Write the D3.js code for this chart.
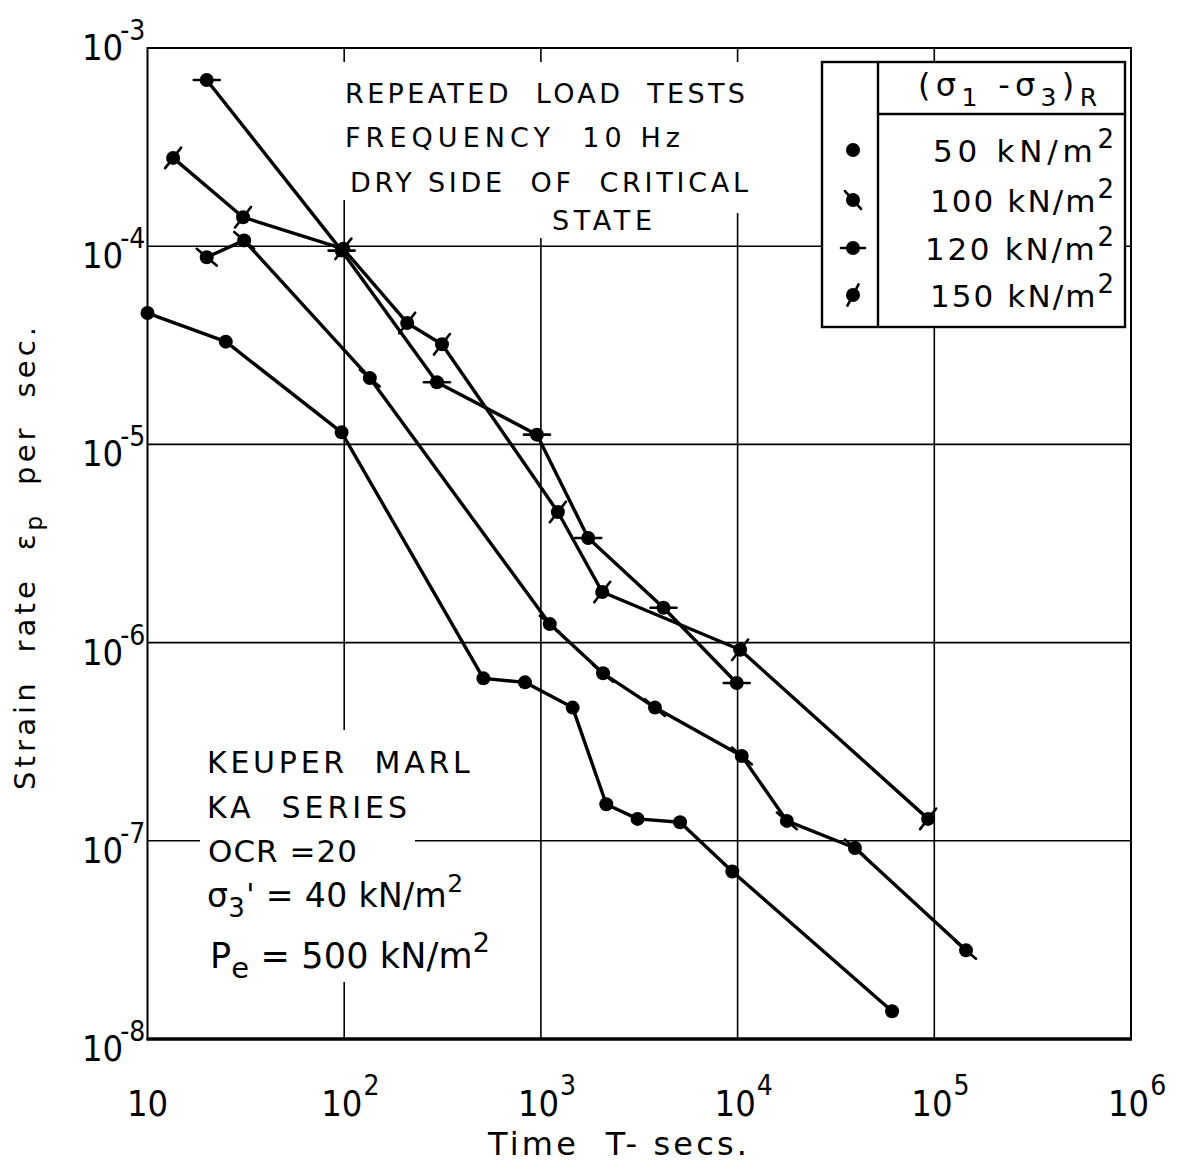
<!DOCTYPE html>
<html>
<head>
<meta charset="utf-8">
<script src="https://cdn.jsdelivr.net/npm/d3@7"></script>
<style>
  html, body { margin: 0; padding: 0; background: #fff; }
  svg text { white-space: pre; fill: #000; }
</style>
</head>
<body>
<svg id="chart" width="1181" height="1165"></svg>
<script>
// Repeated load tests on Keuper Marl: strain rate against time (log-log)

// ---- data ----
const seriesNames = ["50", "100", "120", "150"];

const time50  = [10, 25, 97, 510, 830, 1450, 2150, 3100, 5100, 9400, 61000];
const rate50  = [4.6e-5, 3.3e-5, 1.15e-5, 6.6e-7, 6.3e-7, 4.7e-7, 1.53e-7, 1.29e-7, 1.24e-7, 7.0e-8, 1.38e-8];

const time100 = [20, 31, 135, 1110, 2070, 3800, 10500, 17800, 39500, 145000];
const rate100 = [8.8e-5, 1.07e-4, 2.16e-5, 1.24e-6, 7.0e-7, 4.7e-7, 2.68e-7, 1.26e-7, 9.2e-8, 2.8e-8];

const time120 = [20, 97, 296, 955, 1740, 4200, 9900];
const rate120 = [6.9e-4, 9.5e-5, 2.06e-5, 1.12e-5, 3.37e-6, 1.5e-6, 6.25e-7];

const time150 = [13.5, 30.6, 99, 209, 314, 1220, 2050, 10300, 93000];
const rate150 = [2.79e-4, 1.40e-4, 9.7e-5, 4.1e-5, 3.2e-5, 4.56e-6, 1.8e-6, 9.2e-7, 1.29e-7];

const xTicks = [10, 1e2, 1e3, 1e4, 1e5, 1e6];
const xTickExp = ["", "2", "3", "4", "5", "6"];
const yTicks = [1e-3, 1e-4, 1e-5, 1e-6, 1e-7, 1e-8];
const yTickExp = ["-3", "-4", "-5", "-6", "-7", "-8"];

const titleLines = ["REPEATED  LOAD  TESTS", "FREQUENCY  10 Hz", "DRY SIDE  OF  CRITICAL", "STATE"];
const notesLines = ["KEUPER  MARL", "KA  SERIES", "OCR =20"];

// ---- setup ----
const TICK_FONT = '"DejaVu Sans Condensed", "Liberation Sans Narrow", "DejaVu Sans", sans-serif';
const TEXT_FONT = '"DejaVu Sans", "Liberation Sans", sans-serif';
const svg = d3.select("#chart").style("font-family", TEXT_FONT);
svg.append("rect").attr("width", 1181).attr("height", 1165).attr("fill", "#fff");

const plot = { left: 147.5, right: 1131, top: 48, bottom: 1039 };
const x = d3.scaleLog().domain([10, 1e6]).range([plot.left, plot.right]);
const y = d3.scaleLog().domain([1e-8, 1e-3]).range([plot.bottom, plot.top]);

// spread a text's letters so that it spans the given width
function fit(sel, width) {
  const node = sel.node();
  const w = node.getBBox().width;
  const n = node.getNumberOfChars();
  if (n > 1) sel.style("letter-spacing", ((width - w) / (n - 1)) + "px");
  return sel;
}

// ---- grid ----
const grid = svg.append("g").attr("stroke", "#000").attr("stroke-width", 1.6);
grid.selectAll("line.v").data(xTicks.slice(1, -1)).join("line")
  .attr("x1", d => x(d)).attr("x2", d => x(d))
  .attr("y1", plot.top).attr("y2", plot.bottom);
grid.selectAll("line.h").data(yTicks.slice(1, -1)).join("line")
  .attr("y1", d => y(d)).attr("y2", d => y(d))
  .attr("x1", plot.left).attr("x2", plot.right);

// white panels behind the annotation text
const knockouts = [
  [338, 62, 755, 200], [540, 200, 755, 213], [535, 200, 665, 238],
  [200, 730, 415, 982]
];
svg.append("g").selectAll("rect").data(knockouts).join("rect")
  .attr("x", d => d[0]).attr("y", d => d[1])
  .attr("width", d => d[2] - d[0]).attr("height", d => d[3] - d[1])
  .attr("fill", "#fff");

// frame
svg.append("rect")
  .attr("x", plot.left).attr("y", plot.top)
  .attr("width", plot.right - plot.left).attr("height", plot.bottom - plot.top)
  .attr("fill", "none").attr("stroke", "#000").attr("stroke-width", 2);
svg.append("line")
  .attr("x1", plot.left - 1).attr("x2", plot.right + 1)
  .attr("y1", plot.bottom).attr("y2", plot.bottom)
  .attr("stroke", "#000").attr("stroke-width", 3.5);

// ---- axis labels ----
const ticksG = svg.append("g").style("font-family", TICK_FONT);
xTicks.forEach((v, i) => {
  const t = ticksG.append("text").attr("y", 1116).attr("font-size", 36);
  if (xTickExp[i] === "") {
    t.attr("x", x(v)).attr("text-anchor", "middle").text("10");
  } else {
    t.attr("x", x(v) - 23).text("10");
    t.append("tspan").attr("dx", 1).attr("dy", -21).attr("font-size", 28).text(xTickExp[i]);
  }
});

yTicks.forEach((v, i) => {
  const t = ticksG.append("text").attr("x", 82)
    .attr("y", y(v) + (i === 0 ? 12 : 22)).attr("font-size", 36).text("10");
  t.append("tspan").attr("dx", -3).attr("dy", -20).attr("font-size", 28).text(yTickExp[i]);
});

fit(svg.append("text").attr("x", 488).attr("y", 1155).attr("font-size", 32)
  .text("Time  T- secs."), 260);

const yTitle = svg.append("text").attr("font-size", 29)
  .attr("transform", "translate(35,790) rotate(-90)");
yTitle.append("tspan").text("Strain  rate  ε");
yTitle.append("tspan").attr("dy", 7).attr("font-size", 23).text("p");
yTitle.append("tspan").attr("dy", -7).text("  per  sec.");
fit(yTitle, 463);

// ---- title block ----
const titlePos = [[345, 103, 400], [345, 147, 335], [350, 192, 398], [552, 230, 100]];
titleLines.forEach((s, i) => {
  const [tx, ty, tw] = titlePos[i];
  fit(svg.append("text").attr("x", tx).attr("y", ty).attr("font-size", 27).text(s), tw);
});

// ---- notes block ----
const notesPos = [[207, 773, 263, 30], [207, 818, 200, 30], [208, 862, 149, 31]];
notesLines.forEach((s, i) => {
  const [tx, ty, tw, fs] = notesPos[i];
  fit(svg.append("text").attr("x", tx).attr("y", ty).attr("font-size", fs).text(s), tw);
});
const sig = svg.append("text").attr("x", 207).attr("y", 907).attr("font-size", 33);
sig.append("tspan").text("σ");
sig.append("tspan").attr("dy", 10).attr("font-size", 26).text("3");
sig.append("tspan").attr("dx", 1).attr("dy", -12).attr("font-size", 30).text("'");
sig.append("tspan").attr("dy", 2).text(" = 40 kN/m");
sig.append("tspan").attr("dy", -15).attr("font-size", 25).text("2");
fit(sig, 256);

const pe = svg.append("text").attr("x", 210).attr("y", 968).attr("font-size", 35);
pe.append("tspan").text("P");
pe.append("tspan").attr("dy", 10).attr("font-size", 29).text("e");
pe.append("tspan").attr("dy", -10).text(" = 500 kN/m");
pe.append("tspan").attr("dy", -16).attr("font-size", 27).text("2");
fit(pe, 280);

// ---- data marks ----
const series = [
  { name: seriesNames[0], t: time50,  r: rate50,  tick: null },
  { name: seriesNames[1], t: time100, r: rate100, tick: 40 },
  { name: seriesNames[2], t: time120, r: rate120, tick: 0 },
  { name: seriesNames[3], t: time150, r: rate150, tick: -52 }
];

const line = d3.line().x(d => x(d[0])).y(d => y(d[1]));

function marker(g, cx, cy, tick, r, half) {
  if (tick !== null) {
    const a = tick * Math.PI / 180;
    g.append("line")
      .attr("x1", cx - half * Math.cos(a)).attr("y1", cy - half * Math.sin(a))
      .attr("x2", cx + half * Math.cos(a)).attr("y2", cy + half * Math.sin(a))
      .attr("stroke", "#000").attr("stroke-width", 2.6).attr("stroke-linecap", "round");
  }
  g.append("circle").attr("cx", cx).attr("cy", cy).attr("r", r).attr("fill", "#000");
}

const marks = svg.append("g");
series.forEach(s => {
  const pts = s.t.map((t, i) => [t, s.r[i]]);
  marks.append("path").datum(pts).attr("d", line)
    .attr("fill", "none").attr("stroke", "#000").attr("stroke-width", 3.4)
    .attr("stroke-linejoin", "round");
  const g = marks.append("g");
  pts.forEach(p => marker(g, x(p[0]), y(p[1]), s.tick, 7, 13));
});

// ---- legend ----
const lg = svg.append("g");
lg.append("rect").attr("x", 822).attr("y", 62).attr("width", 303).attr("height", 265)
  .attr("fill", "#fff").attr("stroke", "#000").attr("stroke-width", 2.4);
lg.append("line").attr("x1", 878).attr("x2", 878).attr("y1", 62).attr("y2", 327)
  .attr("stroke", "#000").attr("stroke-width", 2.4);
lg.append("line").attr("x1", 878).attr("x2", 1125).attr("y1", 114).attr("y2", 114)
  .attr("stroke", "#000").attr("stroke-width", 2.4);

const head = lg.append("text").attr("x", 918).attr("y", 96).attr("font-size", 32);
head.append("tspan").text("(σ");
head.append("tspan").attr("dy", 10).attr("font-size", 25).text("1");
head.append("tspan").attr("dy", -10).text(" -σ");
head.append("tspan").attr("dy", 10).attr("font-size", 25).text("3");
head.append("tspan").attr("dy", -10).text(")");
head.append("tspan").attr("dy", 10).attr("font-size", 25).text("R");
fit(head, 179);

const legendY = [150, 200, 248, 295];
const legendX = [933, 930, 925, 930];
series.forEach((s, i) => {
  marker(lg, 853, legendY[i], s.tick === null ? null : (s.tick === 0 ? 0 : s.tick * 1.2), 7, 12);
  const t = lg.append("text").attr("x", legendX[i]).attr("y", legendY[i] + 12).attr("font-size", 31);
  t.append("tspan").text(s.name + " kN/m");
  t.append("tspan").attr("dy", -14).attr("font-size", 26).text("2");
  fit(t, 1114 - legendX[i]);
});
</script>
</body>
</html>
